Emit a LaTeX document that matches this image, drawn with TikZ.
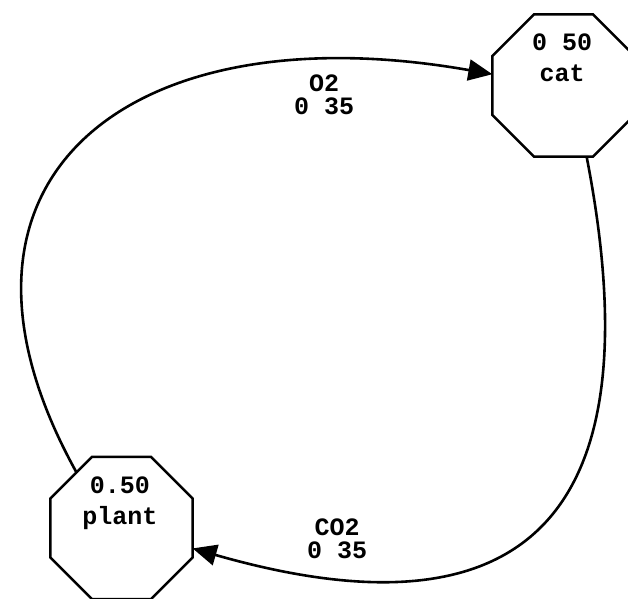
\documentclass[tikz,border=0pt]{standalone}
\usepackage{fontspec}
\setmonofont{Liberation Mono}
\usetikzlibrary{shapes.geometric, arrows.meta}

\tikzset{
  octo/.style={draw, regular polygon, regular polygon sides=8, minimum size=154pt,
    inner sep=0pt, outer sep=0pt, line width=2.6pt},
  valtext/.style={font=\ttfamily\bfseries\fontsize{25}{31}\selectfont, align=center,
    anchor=base, inner sep=0pt},
  flowtext/.style={font=\ttfamily\bfseries\fontsize{25}{23}\selectfont, align=center,
    anchor=base, inner sep=0pt},
  flow/.style={line width=2.6pt, -{Triangle[length=24pt,width=21pt]}}
}

\begin{document}
\begin{tikzpicture}[x=1pt,y=1pt]
\useasboundingbox (0,0) rectangle (628,598);
% compartments
\node[octo] (cat) at (563.5,512.5) {};
\node[octo] (plant) at (121.5,70) {};
\node[valtext] (catval) at (562,516) {0 50\\cat};
\node[valtext] (plantval) at (120,74) {0.50\\plant};
% flows
\draw[flow] (plant.129) .. controls +(119:335) and +(170:370) .. (cat.171);
\draw[flow] (cat.-72) .. controls +(-79:390) and +(-16:325) .. (plant.-16);
\node[flowtext] (o2) at (324,483) {O2\\0 35};
\node[flowtext] (co2) at (337,40) {CO2\\0 35};
\end{tikzpicture}
\end{document}
